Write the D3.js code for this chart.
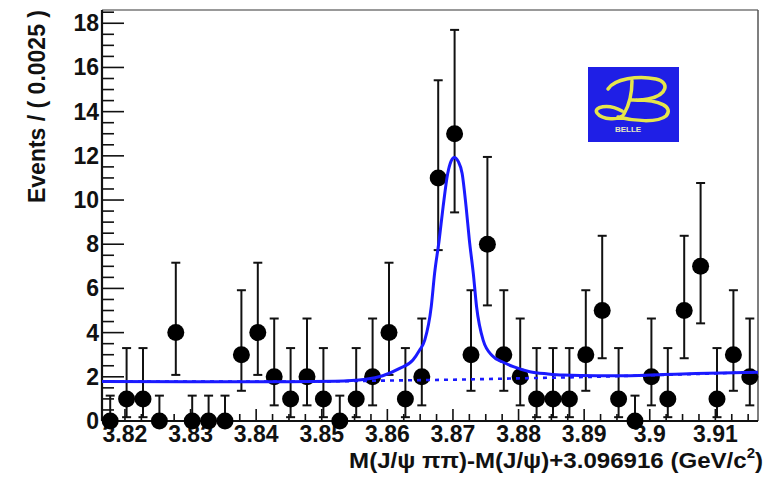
<!DOCTYPE html>
<html>
<head>
<meta charset="utf-8">
<script src="https://cdn.jsdelivr.net/npm/d3@7"></script>
<style>
  body { margin: 0; background: #fff; }
  svg { display: block; }
  text { font-family: "Liberation Sans", Arial, sans-serif; font-weight: bold; fill: #111; }
</style>
</head>
<body>
<script>
const width = 766;
const height = 477;

// binning: 40 bins of 0.0025
const xMin = 3.8165;
const xMax = 3.9165;
const binWidth = 0.0025;
const counts = [0, 1, 1, 0, 4, 0, 0, 0, 3, 4, 2, 1, 2, 1, 0, 1, 2, 4, 1, 2,
                11, 13, 3, 8, 3, 2, 1, 1, 1, 3, 5, 1, 0, 2, 1, 5, 7, 1, 3, 2];

// poisson interval bounds for n = 0..13
const poissonLo = [0, 0.173, 0.708, 1.367, 2.086, 2.840, 3.620, 4.419, 5.232, 6.057, 6.891, 7.734, 8.585, 9.441];
const poissonHi = [1.148, 3.300, 4.638, 5.918, 7.163, 8.382, 9.584, 10.77, 11.95, 13.11, 14.27, 15.42, 16.56, 17.70];

// fit curve
const fitX = [3.8165, 3.830, 3.845, 3.852, 3.8567, 3.8593, 3.8618, 3.8639, 3.8649, 3.8657, 3.8667, 3.8672,
              3.8679, 3.8685, 3.8692, 3.8697, 3.8702, 3.8708, 3.8714, 3.8720, 3.8725, 3.8731, 3.8736, 3.8746,
              3.8760, 3.8775, 3.8792, 3.8817, 3.8845, 3.8868, 3.892, 3.897, 3.902, 3.907, 3.9165];
const fitY = [1.79, 1.78, 1.78, 1.80, 1.89, 2.05, 2.37, 2.76, 3.2, 3.66, 5.2, 6.68,
              8.19, 9.7, 11.2, 11.75, 11.93, 11.75, 11.2, 9.7, 8.19, 6.68, 5.17, 3.66,
              2.95, 2.68, 2.46, 2.23, 2.13, 2.08, 2.05, 2.05, 2.10, 2.15, 2.21];
// background component (dotted)
const bkgX = [3.8165, 3.84, 3.85, 3.86, 3.87, 3.88, 3.89, 3.90, 3.9165];
const bkgY = [1.79, 1.78, 1.79, 1.83, 1.87, 1.93, 1.99, 2.07, 2.21];

const xTicks = [3.82, 3.83, 3.84, 3.85, 3.86, 3.87, 3.88, 3.89, 3.90, 3.91];
const yTicks = [0, 2, 4, 6, 8, 10, 12, 14, 16, 18];

const x0 = 102, x1 = 758, yTop = 10, yBot = 421;

const x = d3.scaleLinear().domain([xMin, xMax]).range([x0, x1]);
const y = d3.scaleLinear().domain([0, 18.6]).range([yBot, yTop]);

const svg = d3.select("body").append("svg")
  .attr("width", width)
  .attr("height", height);

// frame
svg.append("line").attr("x1", x0).attr("x2", x1).attr("y1", yTop).attr("y2", yTop)
  .attr("stroke", "#777").attr("stroke-width", 1.5);
svg.append("line").attr("x1", x1).attr("x2", x1).attr("y1", yTop).attr("y2", yBot)
  .attr("stroke", "#555").attr("stroke-width", 1.5);

// y axis ticks (inside)
const yMinor = d3.range(0, 18.6, 0.5);
svg.append("g").selectAll("line").data(yMinor).join("line")
  .attr("x1", x0).attr("x2", d => x0 + (d % 2 === 0 ? 22 : 12))
  .attr("y1", d => y(d)).attr("y2", d => y(d))
  .attr("stroke", "#111").attr("stroke-width", 1.6);
svg.append("g").selectAll("text").data(yTicks).join("text")
  .attr("x", x0 - 3).attr("y", d => y(d) + 8)
  .attr("text-anchor", "end")
  .attr("font-size", 23)
  .text(d => d);

// x axis ticks (inside)
const xMinor = d3.range(0, 40).map(i => 3.8175 + i * binWidth).filter(v => v < xMax);
svg.append("g").selectAll("line").data(xMinor).join("line")
  .attr("x1", d => x(d)).attr("x2", d => x(d))
  .attr("y1", yBot)
  .attr("y2", d => yBot - (Math.abs(d * 100 - Math.round(d * 100)) < 1e-6 ? 12 : 7))
  .attr("stroke", "#111").attr("stroke-width", 1.6);
svg.append("g").selectAll("text").data(xTicks).join("text")
  .attr("x", d => x(d)).attr("y", yBot + 21)
  .attr("text-anchor", "middle")
  .attr("font-size", 23)
  .text(d => d3.format(".3~f")(d));

// axis lines
svg.append("line").attr("x1", x0).attr("x2", x0).attr("y1", yTop).attr("y2", yBot)
  .attr("stroke", "#111").attr("stroke-width", 2.2);
svg.append("line").attr("x1", x0).attr("x2", x1).attr("y1", yBot).attr("y2", yBot)
  .attr("stroke", "#111").attr("stroke-width", 2.2);

// titles
svg.append("text")
  .attr("transform", `translate(45,${yTop}) rotate(-90)`)
  .attr("text-anchor", "end")
  .attr("font-size", 23)
  .text("Events / ( 0.0025 )");

const xt = svg.append("text")
  .attr("transform", "translate(763,468) scale(1.07,1)")
  .attr("text-anchor", "end")
  .attr("font-size", 22.5);
xt.append("tspan").text("M(J/ψ ππ)-M(J/ψ)+3.096916 (GeV/c");
xt.append("tspan").attr("font-size", 14).attr("dy", -10).text("2");
xt.append("tspan").attr("dy", 10).text(")");

// data points with poisson errors
const pts = counts.map((n, i) => ({ xc: xMin + binWidth * (i + 0.5), n }));
const bars = svg.append("g").attr("stroke", "#111").attr("stroke-width", 2);
bars.selectAll(".v").data(pts).join("line").attr("class", "v")
  .attr("x1", d => x(d.xc)).attr("x2", d => x(d.xc))
  .attr("y1", d => y(poissonLo[d.n])).attr("y2", d => y(poissonHi[d.n]));
bars.selectAll(".ch").data(pts).join("line").attr("class", "ch")
  .attr("x1", d => x(d.xc) - 4.5).attr("x2", d => x(d.xc) + 4.5)
  .attr("y1", d => y(poissonHi[d.n])).attr("y2", d => y(poissonHi[d.n]));
bars.selectAll(".cl").data(pts.filter(d => d.n > 0)).join("line").attr("class", "cl")
  .attr("x1", d => x(d.xc) - 4.5).attr("x2", d => x(d.xc) + 4.5)
  .attr("y1", d => y(poissonLo[d.n])).attr("y2", d => y(poissonLo[d.n]));
svg.append("g").selectAll("circle").data(pts).join("circle")
  .attr("cx", d => x(d.xc)).attr("cy", d => y(d.n))
  .attr("r", 8.5).attr("fill", "#000");

// fit curves
const line = d3.line().x(d => x(d[0])).y(d => y(d[1])).curve(d3.curveMonotoneX);
svg.append("path")
  .attr("d", line(d3.zip(bkgX, bkgY)))
  .attr("fill", "none").attr("stroke", "#1a1aff").attr("stroke-width", 2.6)
  .attr("stroke-dasharray", "4,5");
svg.append("path")
  .attr("d", line(d3.zip(fitX, fitY)))
  .attr("fill", "none").attr("stroke", "#1a1aff").attr("stroke-width", 3);

// Belle logo
const logo = svg.append("g").attr("transform", "translate(588,67)");
logo.append("rect").attr("width", 91).attr("height", 75).attr("fill", "#1f1fe6");
logo.append("path")
  .attr("d", "M20,22 C26,12 50,8 68,12 C82,15 80,28 60,32 C52,34 46,33 44,33 " +
             "M48,33 C72,33 86,40 78,49 C70,56 45,54 30,50 " +
             "M44,14 C44,28 40,40 36,47 C32,54 14,53 9,46 C5,40 20,36 34,44")
  .attr("fill", "none").attr("stroke", "#e6e64a").attr("stroke-width", 3.5)
  .attr("stroke-linecap", "round");
logo.append("text").attr("x", 40).attr("y", 65).attr("text-anchor", "middle")
  .attr("font-size", 8).attr("font-weight", "normal").style("fill", "#e8e8c0")
  .text("BELLE");
</script>
</body>
</html>
